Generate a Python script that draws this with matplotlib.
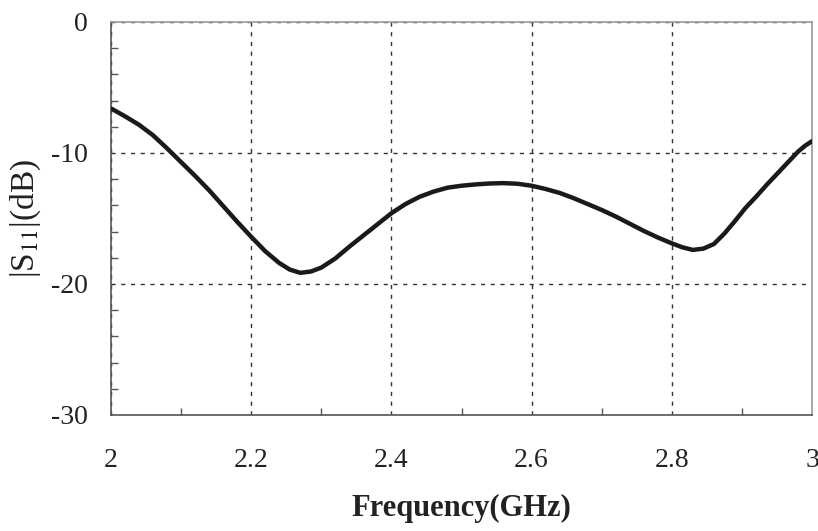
import matplotlib.pyplot as plt
from matplotlib.ticker import MultipleLocator

# S11
freq = [2.0, 2.02, 2.04, 2.06, 2.08, 2.1, 2.12, 2.14, 2.16, 2.18, 2.2, 2.22, 2.24,
        2.255, 2.27, 2.285, 2.3, 2.32, 2.34, 2.36, 2.38, 2.4, 2.42, 2.44, 2.46,
        2.48, 2.5, 2.52, 2.54, 2.56, 2.58, 2.6, 2.62, 2.64, 2.66, 2.68, 2.7, 2.72,
        2.74, 2.76, 2.78, 2.8, 2.815, 2.83, 2.845, 2.86, 2.875, 2.89, 2.905, 2.92,
        2.935, 2.95, 2.965, 2.98, 2.99, 3.0]
s11 = [-6.6, -7.2, -7.85, -8.65, -9.65, -10.7, -11.75, -12.85, -14.05, -15.25, -16.4, -17.5, -18.4,
       -18.9, -19.15, -19.05, -18.75, -18.05, -17.15, -16.3, -15.45, -14.6, -13.9, -13.35, -12.95,
       -12.65, -12.5, -12.4, -12.33, -12.3, -12.35, -12.5, -12.75, -13.05, -13.45, -13.9, -14.35, -14.85,
       -15.4, -15.95, -16.45, -16.9, -17.2, -17.4, -17.3, -16.95, -16.15, -15.2, -14.2, -13.35,
       -12.45, -11.6, -10.75, -9.9, -9.45, -9.1]

xticks = [2, 2.2, 2.4, 2.6, 2.8, 3]
xticklabels = ["2", "2.2", "2.4", "2.6", "2.8", "3"]
yticks = [-30, -20, -10, 0]

plt.rcParams['font.family'] = ['Liberation Serif', 'DejaVu Serif']
plt.rcParams['mathtext.fontset'] = 'stix'
plt.rcParams['axes.unicode_minus'] = False

fig = plt.figure(figsize=(8.18, 5.31), dpi=100)
ax = fig.add_axes([0.1357, 0.2185, 0.857, 0.7401])

ax.plot(freq, s11, color='#1a1a1a', linewidth=3.2, solid_capstyle='round', solid_joinstyle='round', zorder=3)

ax.set_xlim(2, 3)
ax.set_ylim(-30, 0)
ax.set_xticks(xticks)
ax.set_xticklabels(xticklabels)
ax.set_yticks(yticks)
ax.xaxis.set_minor_locator(MultipleLocator(0.1))
ax.yaxis.set_minor_locator(MultipleLocator(2))

ax.grid(True, which='major', color='#333333', linestyle=(0, (3, 4)), linewidth=1)
ax.tick_params(which='both', direction='in', top=False, right=False, colors='#555555')
ax.tick_params(which='major', length=0, labelsize=20, labelcolor='#222222')
ax.tick_params(axis='x', which='major', pad=24)
ax.tick_params(axis='y', which='major', pad=17)
ax.tick_params(which='minor', length=5, width=1)

for side in ['left', 'bottom']:
    ax.spines[side].set_color('#555555')
    ax.spines[side].set_linewidth(1.2)
for side in ['top', 'right']:
    ax.spines[side].set_color('#999999')
    ax.spines[side].set_linewidth(1.2)

ax.set_xlabel("Frequency(GHz)", fontsize=22, fontweight='bold', color='#222222')
ax.xaxis.set_label_coords(0.5, -0.2)
ax.set_ylabel(r"|S$_{11}$|(dB)", fontsize=24, color='#222222')
ax.yaxis.set_label_coords(-0.097, 0.5)

fig.savefig("out.png", dpi=100)
